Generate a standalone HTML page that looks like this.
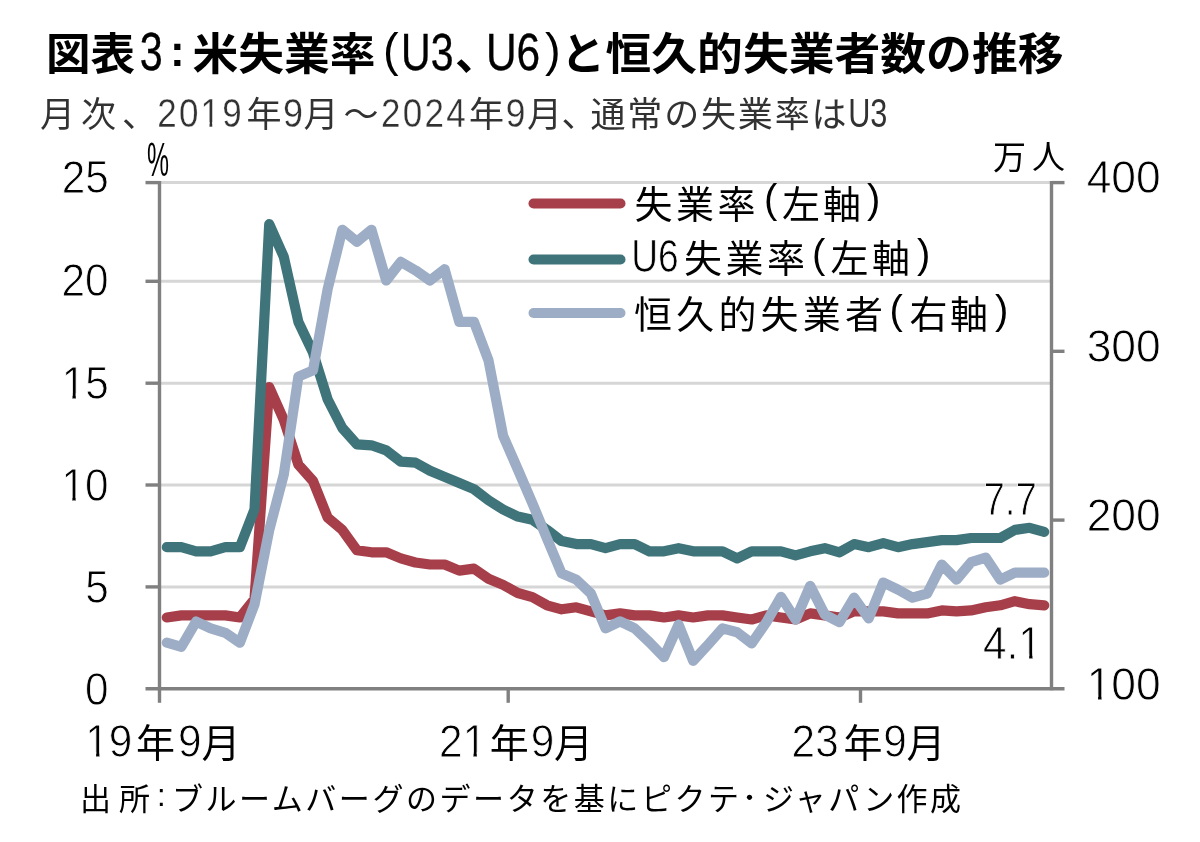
<!DOCTYPE html>
<html lang="ja"><head><meta charset="utf-8"><title>図表3:米失業率(U3、U6)と恒久的失業者数の推移</title>
<style>
html,body{margin:0;padding:0;background:#fff}
body{width:1200px;height:842px;overflow:hidden;font-family:"Liberation Sans","Noto Sans CJK JP",sans-serif}
svg{display:block}
svg text{font-family:"Liberation Sans","Noto Sans CJK JP",sans-serif}
</style></head><body>
<svg width="1200" height="842" viewBox="0 0 1200 842" role="img" aria-label="図表3:米失業率(U3、U6)と恒久的失業者数の推移">
<rect width="1200" height="842" fill="#fff"/>
<g stroke="#D6D6D6" stroke-width="3" fill="none">
<line x1="159.5" x2="1051.5" y1="586.9" y2="586.9"/>
<line x1="159.5" x2="1051.5" y1="485.0" y2="485.0"/>
<line x1="159.5" x2="1051.5" y1="383.2" y2="383.2"/>
<line x1="159.5" x2="1051.5" y1="281.3" y2="281.3"/>
<line x1="159.5" x2="1051.5" y1="182.6" y2="182.6"/>
</g>
<g stroke="#808080" stroke-width="3.4" fill="none">
<line x1="159.5" x2="159.5" y1="181.1" y2="690.3"/>
<line x1="1051.5" x2="1051.5" y1="181.1" y2="690.3"/>
<line x1="145.5" x2="1064.5" y1="688.8" y2="688.8"/>
<line x1="145.5" x2="159.5" y1="586.9" y2="586.9"/>
<line x1="145.5" x2="159.5" y1="485.0" y2="485.0"/>
<line x1="145.5" x2="159.5" y1="383.2" y2="383.2"/>
<line x1="145.5" x2="159.5" y1="281.3" y2="281.3"/>
<line x1="145.5" x2="159.5" y1="182.6" y2="182.6"/>
<line x1="1051.5" x2="1064.5" y1="520.1" y2="520.1"/>
<line x1="1051.5" x2="1064.5" y1="351.3" y2="351.3"/>
<line x1="1051.5" x2="1064.5" y1="182.6" y2="182.6"/>
<line x1="159.5" x2="159.5" y1="688.8" y2="702.8"/>
<line x1="508.2" x2="508.2" y1="688.8" y2="702.8"/>
<line x1="860.5" x2="860.5" y1="688.8" y2="702.8"/>
</g>
<polyline points="166.8,617.5 181.4,615.4 196.1,615.4 210.7,615.4 225.3,615.4 239.9,617.5 254.5,599.1 269.2,387.2 283.8,419.8 298.4,464.7 313.0,481.0 327.7,517.6 342.3,529.9 356.9,550.2 371.5,552.3 386.2,552.3 400.8,558.4 415.4,562.5 430.0,564.5 444.6,564.5 459.3,570.6 473.9,568.6 488.5,578.8 503.1,584.9 517.8,593.0 532.4,597.1 547.0,605.3 561.6,609.3 576.3,607.3 590.9,611.4 605.5,615.4 620.1,613.4 634.7,615.4 649.4,615.4 664.0,617.5 678.6,615.4 693.2,617.5 707.9,615.4 722.5,615.4 737.1,617.5 751.7,619.5 766.4,615.4 781.0,617.5 795.6,619.5 810.2,613.4 824.8,615.4 839.5,617.5 854.1,611.4 868.7,611.4 883.3,611.4 898.0,613.4 912.6,613.4 927.2,613.4 941.8,610.4 956.5,611.4 971.1,610.4 985.7,607.3 1000.3,605.3 1014.9,601.2 1029.6,604.2 1044.2,605.3" fill="none" stroke="#A63F49" stroke-width="10.2" stroke-linejoin="round" stroke-linecap="round"/>
<polyline points="166.8,547.2 181.4,547.2 196.1,551.3 210.7,551.3 225.3,547.2 239.9,547.2 254.5,509.5 269.2,224.2 283.8,256.8 298.4,322.0 313.0,352.6 327.7,399.5 342.3,428.0 356.9,444.3 371.5,445.3 386.2,450.4 400.8,461.6 415.4,462.6 430.0,470.8 444.6,476.9 459.3,483.0 473.9,489.1 488.5,500.3 503.1,509.5 517.8,516.6 532.4,519.7 547.0,529.9 561.6,541.1 576.3,544.1 590.9,544.1 605.5,548.2 620.1,544.1 634.7,544.1 649.4,551.3 664.0,551.3 678.6,548.2 693.2,551.3 707.9,551.3 722.5,551.3 737.1,558.4 751.7,551.3 766.4,551.3 781.0,551.3 795.6,555.3 810.2,551.3 824.8,548.2 839.5,552.3 854.1,544.1 868.7,547.2 883.3,543.1 898.0,547.2 912.6,544.1 927.2,542.1 941.8,540.1 956.5,540.1 971.1,538.0 985.7,538.0 1000.3,538.0 1014.9,529.9 1029.6,527.8 1044.2,531.9" fill="none" stroke="#3F747A" stroke-width="10.2" stroke-linejoin="round" stroke-linecap="round"/>
<polyline points="166.8,642.7 181.4,646.8 196.1,621.6 210.7,628.4 225.3,632.8 239.9,642.7 254.5,604.4 269.2,530.2 283.8,474.5 298.4,376.6 313.0,370.4 327.7,288.9 342.3,229.8 356.9,241.7 371.5,229.8 386.2,280.5 400.8,261.9 415.4,270.3 430.0,280.5 444.6,269.2 459.3,321.8 473.9,321.8 488.5,360.4 503.1,435.7 517.8,469.4 532.4,503.2 547.0,538.6 561.6,573.4 576.3,579.6 590.9,593.5 605.5,628.4 620.1,621.3 634.7,628.4 649.4,642.2 664.0,657.2 678.6,624.7 693.2,660.8 707.9,644.9 722.5,628.4 737.1,632.3 751.7,643.4 766.4,622.2 781.0,596.8 795.6,619.6 810.2,585.9 824.8,614.6 839.5,622.2 854.1,597.7 868.7,618.4 883.3,582.5 898.0,589.6 912.6,597.7 927.2,593.5 941.8,564.6 956.5,579.6 971.1,562.2 985.7,557.7 1000.3,579.6 1014.9,572.7 1029.6,572.7 1044.2,572.7" fill="none" stroke="#9DADC5" stroke-width="10.2" stroke-linejoin="round" stroke-linecap="round"/>
<line x1="533.5" x2="620.5" y1="203.5" y2="203.5" stroke="#A63F49" stroke-width="10" stroke-linecap="round"/>
<line x1="533.5" x2="620.5" y1="259.5" y2="259.5" stroke="#3F747A" stroke-width="10" stroke-linecap="round"/>
<line x1="533.5" x2="620.5" y1="313" y2="313" stroke="#9DADC5" stroke-width="10" stroke-linecap="round"/>
<g opacity="0.999">
<text x="46" y="70" font-size="44" font-weight="bold" fill="#000" textLength="89" lengthAdjust="spacingAndGlyphs">図表</text>
<text transform="translate(139.83,70.4) scale(1.0000,1.2784)" font-size="41.34" fill="#000" stroke="#000" stroke-width="0.3">3</text>
<text x="170" y="66" font-size="44" font-weight="bold" fill="#000">:</text>
<text x="192.5" y="70" font-size="44" font-weight="bold" fill="#000" textLength="183" lengthAdjust="spacingAndGlyphs">米失業率</text>
<text x="383" y="65.5" font-size="47" fill="#000">(</text>
<text transform="translate(401.03,70.0) scale(1.0000,1.2804)" font-size="41.05" fill="#000" stroke="#000" stroke-width="0.3">U3</text>
<text x="455" y="70" font-size="44" font-weight="bold" fill="#000">、</text>
<text transform="translate(485.93,70.0) scale(1.0000,1.2388)" font-size="42.43" fill="#000" stroke="#000" stroke-width="0.3">U6</text>
<text x="545" y="65.5" font-size="47" fill="#000">)</text>
<text x="561" y="70" font-size="44" font-weight="bold" fill="#000">と</text>
<text x="605.5" y="70" font-size="44" font-weight="bold" fill="#000" textLength="458" lengthAdjust="spacingAndGlyphs">恒久的失業者数の推移</text>
<text x="40" y="126.8" font-size="35" fill="#323232" textLength="117" lengthAdjust="spacing">月次、</text>
<clipPath id="c1"><path clip-rule="evenodd" d="M-50 -70.0H136.6V35.0H-50ZM45.01 -4.15H52.31V7.0H45.01ZM54.99 -4.15H62.10V7.0H54.99Z"/></clipPath>
<text transform="translate(157.24,126.8) scale(1.0000,1.1376)" font-size="35.0" fill="#323232" stroke="#fff" stroke-width="0.3" clip-path="url(#c1)" letter-spacing="2.19">2019</text>
<text x="246.5" y="126.8" font-size="35" fill="#323232">年</text>
<text transform="translate(283.02,126.8) scale(1.0000,1.1078)" font-size="35.94" fill="#323232" stroke="#fff" stroke-width="0.3">9</text>
<text x="303.5" y="126.8" font-size="35" fill="#323232">月</text>
<text x="343.5" y="126.8" font-size="35" fill="#323232">～</text>
<text transform="translate(380.94,126.8) scale(1.0000,1.1376)" font-size="35.0" fill="#323232" stroke="#fff" stroke-width="0.3" letter-spacing="2.31">2024</text>
<text x="469" y="126.8" font-size="35" fill="#323232">年</text>
<text transform="translate(505.65,126.8) scale(1.0000,1.1282)" font-size="35.29" fill="#323232" stroke="#fff" stroke-width="0.3">9</text>
<text x="527" y="126.8" font-size="35" fill="#323232">月</text>
<text x="561.5" y="126.8" font-size="35" fill="#323232">、</text>
<text x="590.5" y="126.8" font-size="35" fill="#323232" textLength="256" lengthAdjust="spacing">通常の失業率は</text>
<text transform="translate(848.13,126.8) scale(1.0000,1.2977)" font-size="30.68" fill="#323232">U3</text>
<text x="147" y="176" font-size="48" fill="#000" textLength="22" lengthAdjust="spacingAndGlyphs">%</text>
<text x="993" y="169" font-size="33" fill="#000" textLength="72" lengthAdjust="spacing">万人</text>
<text transform="translate(61.63,193.3) scale(1.0000,1.0970)" font-size="42.3" fill="#000" stroke="#fff" stroke-width="0.8">25</text>
<text transform="translate(61.50,296.1) scale(1.0000,1.0970)" font-size="42.3" fill="#000" stroke="#fff" stroke-width="0.8">20</text>
<clipPath id="c2"><path clip-rule="evenodd" d="M-50 -84.6H97.1V42.3H-50ZM2.07 -5.02H10.88V8.5H2.07ZM14.13 -5.02H22.72V8.5H14.13Z"/></clipPath>
<text transform="translate(61.63,398.9) scale(1.0000,1.1133)" font-size="42.3" fill="#000" stroke="#fff" stroke-width="0.8" clip-path="url(#c2)">15</text>
<clipPath id="c3"><path clip-rule="evenodd" d="M-50 -84.6H97.1V42.3H-50ZM2.07 -5.02H10.88V8.5H2.07ZM14.13 -5.02H22.72V8.5H14.13Z"/></clipPath>
<text transform="translate(61.50,501.0) scale(1.0000,1.0970)" font-size="42.3" fill="#000" stroke="#fff" stroke-width="0.8" clip-path="url(#c3)">10</text>
<text transform="translate(85.15,602.7) scale(1.0000,1.1133)" font-size="42.3" fill="#000" stroke="#fff" stroke-width="0.8">5</text>
<text transform="translate(85.03,704.9) scale(1.0000,1.0970)" font-size="42.3" fill="#000" stroke="#fff" stroke-width="0.8">0</text>
<text transform="translate(1086.65,193.0) scale(1.0000,1.0451)" font-size="44.4" fill="#000" stroke="#fff" stroke-width="0.8">400</text>
<text transform="translate(1086.65,362.3) scale(1.0000,1.0451)" font-size="44.4" fill="#000" stroke="#fff" stroke-width="0.8">300</text>
<text transform="translate(1086.65,531.0) scale(1.0000,1.0451)" font-size="44.4" fill="#000" stroke="#fff" stroke-width="0.8">200</text>
<clipPath id="c4"><path clip-rule="evenodd" d="M-50 -88.8H124.1V44.4H-50ZM2.17 -5.27H11.43V8.9H2.17ZM14.83 -5.27H23.85V8.9H14.83Z"/></clipPath>
<text transform="translate(1086.65,699.7) scale(1.0000,1.0451)" font-size="44.4" fill="#000" stroke="#fff" stroke-width="0.8" clip-path="url(#c4)">100</text>
<text transform="translate(983.43,515.2) scale(1.0000,1.2185)" font-size="38.41" fill="#000" stroke="#fff" stroke-width="0.8">7.7</text>
<clipPath id="c5"><path clip-rule="evenodd" d="M-50 -84.6H108.8V42.3H-50ZM37.34 -5.02H46.16V8.5H37.34ZM49.41 -5.02H58.00V8.5H49.41Z"/></clipPath>
<text transform="translate(983.03,659.3) scale(1.0000,1.1099)" font-size="42.3" fill="#000" stroke="#fff" stroke-width="0.8" clip-path="url(#c5)">4.1</text>
<text x="136" y="757.4" font-size="39" fill="#000">年</text>
<text transform="translate(178.02,757.4) scale(1.0000,1.0970)" font-size="42.3" fill="#000" stroke="#fff" stroke-width="0.8">9</text>
<text x="201.5" y="757.4" font-size="39" fill="#000">月</text>
<text x="489.7" y="757.4" font-size="39" fill="#000">年</text>
<text transform="translate(530.77,757.4) scale(1.0000,1.0970)" font-size="42.3" fill="#000" stroke="#fff" stroke-width="0.8">9</text>
<text x="554" y="757.4" font-size="39" fill="#000">月</text>
<text x="843.5" y="757.4" font-size="39" fill="#000">年</text>
<text transform="translate(883.27,757.4) scale(1.0000,1.0970)" font-size="42.3" fill="#000" stroke="#fff" stroke-width="0.8">9</text>
<text x="906.5" y="757.4" font-size="39" fill="#000">月</text>
<clipPath id="c6"><path clip-rule="evenodd" d="M-50 -84.6H97.1V42.3H-50ZM2.07 -5.02H10.88V8.5H2.07ZM14.13 -5.02H22.72V8.5H14.13Z"/></clipPath>
<text transform="translate(85.25,757.4) scale(1.0000,1.0970)" font-size="42.3" fill="#000" stroke="#fff" stroke-width="0.8" clip-path="url(#c6)">19</text>
<clipPath id="c7"><path clip-rule="evenodd" d="M-50 -84.6H97.1V42.3H-50ZM25.59 -5.02H34.41V8.5H25.59ZM37.65 -5.02H46.24V8.5H37.65Z"/></clipPath>
<text transform="translate(439.12,757.4) scale(1.0000,1.0970)" font-size="42.3" fill="#000" stroke="#fff" stroke-width="0.8" clip-path="url(#c7)">21</text>
<text transform="translate(791.62,757.4) scale(1.0000,1.0970)" font-size="42.3" fill="#000" stroke="#fff" stroke-width="0.8">23</text>
<text x="634.5" y="217.5" font-size="38" fill="#000" textLength="121" lengthAdjust="spacing">失業率</text>
<text x="764" y="213" font-size="40" fill="#000">(</text>
<text x="782" y="217.5" font-size="38" fill="#000" textLength="79" lengthAdjust="spacing">左軸</text>
<text x="867" y="213" font-size="40" fill="#000">)</text>
<text transform="translate(631.13,272) scale(1.0000,1.2333)" font-size="37.16" fill="#000" stroke="#fff" stroke-width="0.6">U6</text>
<text x="684" y="272" font-size="38" fill="#000" textLength="121" lengthAdjust="spacing">失業率</text>
<text x="812" y="267.5" font-size="40" fill="#000">(</text>
<text x="830.5" y="272" font-size="38" fill="#000" textLength="79.5" lengthAdjust="spacing">左軸</text>
<text x="917" y="267.5" font-size="40" fill="#000">)</text>
<text x="634" y="328" font-size="38" fill="#000" textLength="249" lengthAdjust="spacing">恒久的失業者</text>
<text x="889.5" y="323.5" font-size="40" fill="#000">(</text>
<text x="909.5" y="328" font-size="38" fill="#000" textLength="78.5" lengthAdjust="spacing">右軸</text>
<text x="995" y="323.5" font-size="40" fill="#000">)</text>
<text x="80" y="810" font-size="31" fill="#000" textLength="70" lengthAdjust="spacing">出所</text>
<text x="157" y="806" font-size="31" fill="#000">:</text>
<text x="172" y="810" font-size="31" fill="#000" textLength="567" lengthAdjust="spacing">ブルームバーグのデータを基にピクテ</text>
<text x="737" y="806.5" font-size="25" fill="#000">・</text>
<text x="763" y="810" font-size="31" fill="#000" textLength="198" lengthAdjust="spacing">ジャパン作成</text>
</g>
</svg>
</body></html>
